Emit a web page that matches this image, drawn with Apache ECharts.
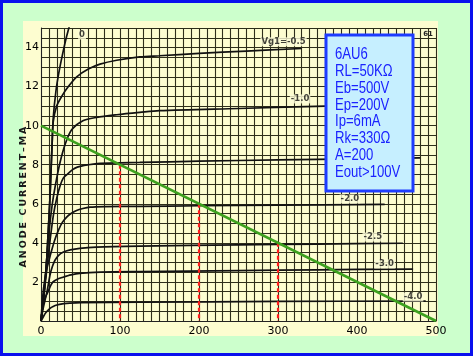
<!DOCTYPE html>
<html>
<head>
<meta charset="utf-8">
<script src="https://cdn.jsdelivr.net/npm/echarts@6/dist/echarts.min.js"></script>
<style>html,body{margin:0;padding:0;}#c{width:473px;height:356px;}</style>
</head>
<body>
<div id="c"></div>
<script>
// ---- data (anode voltage V, anode current mA) ----
const vg0   = [[0,0],[4,1.5],[7,3],[9,4.5],[11,6],[12.5,7.5],[14,9],[15.5,10.4],[19,11.8],[23,12.8],[27,13.6],[32,14.5],[38,15.4]];
const vg05  = [[0,0],[4,1.5],[7,3],[9,4.5],[11,6],[12.5,7.5],[14,9],[15.5,10.2],[19.8,11.0],[26.2,11.5],[34.6,12.0],[45.2,12.5],[59.9,12.9],[74.7,13.15],[95.8,13.35],[125,13.52],[150,13.58],[200,13.7],[260,13.82],[330,13.95]];
const vg10  = [[0,0],[4,1.5],[7,3],[10,4.5],[14,5.9],[18,6.9],[24,8.1],[31,9.1],[39,9.8],[53,10.25],[70,10.42],[96,10.56],[125,10.68],[150,10.77],[250,10.88],[360,11.0]];
const vg15  = [[0,0],[4,1.4],[8,2.9],[12,4.3],[16,5.5],[20,6.3],[24,6.9],[28,7.3],[33,7.5],[40,7.75],[46,7.88],[60,8.0],[71,8.06],[100,8.1],[125,8.12],[200,8.18],[300,8.25],[400,8.3],[480,8.35]];
const vg20  = [[0,0],[3,1.6],[7,2.6],[12,3.4],[17,4.1],[22,4.64],[27,5.05],[32.5,5.32],[38,5.5],[45,5.66],[53,5.76],[62,5.83],[80,5.86],[125,5.87],[200,5.9],[300,5.93],[435,5.97]];
const vg25  = [[0,0],[3,0.7],[7.6,1.5],[11.4,2.35],[14.5,2.8],[17.7,3.11],[22,3.35],[27.8,3.52],[37,3.64],[49,3.72],[70,3.78],[125,3.83],[250,3.9],[350,3.94],[458,3.98]];
const vg30  = [[0,0],[2.5,0.82],[5.5,1.2],[8.9,1.5],[12,1.8],[15.2,2.0],[20,2.13],[27.8,2.24],[38,2.36],[49,2.44],[75,2.5],[125,2.53],[250,2.58],[350,2.62],[471,2.66]];
const vg40  = [[0,0],[3,0.22],[6,0.42],[11.4,0.65],[16,0.76],[20,0.82],[27,0.88],[32.5,0.9],[50,0.94],[125,0.96],[300,1.0],[487,1.02]];
const curves = [vg0, vg05, vg10, vg15, vg20, vg25, vg30, vg40];

const loadLine = [[0,10],[500,0]];
const workPoints = [[100,8],[200,6],[300,4]];

const curveLabels = ['0','Vg1=-0.5','-1.0','-2.0','-2.5','-3.0','-4.0'];
const curveLabelAt = [[52,14.64],[307,14.29],[328,11.37],[391,6.25],[420,4.3],[435,2.92],[471,1.23]];

const xTickLabels = [0,100,200,300,400,500];
const yTickLabels = [2,4,6,8,10,12,14];

const yTitle = 'A\u2009N\u2009O\u2009D\u2009E\u2002\u2009C\u2009U\u2009R\u2009R\u2009E\u2009N\u2009T\u2009\u2013\u2009M\u2009A';
const boxLines = ['6AU6','RL=50K\u03A9','Eb=500V','Ep=200V','Ip=6mA','Rk=330\u03A9','A=200','Eout>100V'];

// ---- chart ----
const chart = echarts.init(document.getElementById('c'), null, {renderer:'canvas'});
const gridLine = {show:true, lineStyle:{color:'#2e2e1a', width:1.1}};
const series = [];
curves.forEach(c => series.push({
  type:'line', data:c, showSymbol:false, smooth:0.3, clip:true,
  lineStyle:{color:'#111', width:1.7}, z:3, silent:true
}));
series.push({type:'line', data:loadLine, showSymbol:false, lineStyle:{color:'#3da11f', width:2.6}, z:5, silent:true});
workPoints.forEach(p => series.push({
  type:'line', data:[[p[0],p[1]],[p[0],0]], showSymbol:false,
  lineStyle:{color:'#ff1c1c', width:2.2, type:[4,2.5]}, z:4, silent:true
}));
series.push({
  type:'scatter', symbolSize:0, z:6, silent:true,
  data: curveLabelAt.map((p,i)=>({value:p, name:curveLabels[i]})),
  label:{show:true, position:'inside', formatter:'{b}', color:'#111', fontSize:8.5, fontWeight:'bold',
    fontFamily:'DejaVu Sans', backgroundColor:'#fdfdd8', padding:[0,1]}
});

chart.setOption({
  animation:false,
  backgroundColor:'#ccffcc',
  grid:{left:41, top:28, right:37, bottom:35},
  xAxis:{type:'value', min:0, max:500, interval:10,
    axisLine:{show:true, lineStyle:{color:'#222', width:1}}, axisTick:{show:false},
    splitLine:gridLine,
    axisLabel:{margin:5, color:'#000', fontSize:11, fontFamily:'DejaVu Sans',
      formatter:v => xTickLabels.indexOf(v)>=0 ? String(v) : ''}},
  yAxis:{type:'value', min:0, max:15, interval:0.5,
    axisLine:{show:true, lineStyle:{color:'#222', width:1}}, axisTick:{show:false},
    splitLine:gridLine,
    axisLabel:{margin:2, color:'#000', fontSize:11, fontFamily:'DejaVu Sans',
      formatter:v => yTickLabels.indexOf(v)>=0 ? String(v) : ''}},
  series:series,
  graphic:[
    {type:'rect', z:-10, silent:true, shape:{x:0,y:0,width:473,height:356}, style:{fill:'#ccffcc', stroke:'#0a10ee', lineWidth:6}},
    {type:'rect', z:-9, silent:true, shape:{x:23,y:21,width:415,height:315}, style:{fill:'#fdfdd0'}},
    {type:'text', z:10, silent:true, x:24, y:197, rotation:Math.PI/2,
      style:{text:yTitle, fill:'#1a1a1a', font:'bold 9.5px "DejaVu Sans"', align:'center', verticalAlign:'middle'}},
    {type:'text', z:10, silent:true, x:428, y:34,
      style:{text:'61', fill:'#222', font:'bold 7px "DejaVu Sans"', align:'center', verticalAlign:'middle'}},
    {type:'rect', z:100, silent:true, shape:{x:326,y:35,width:87,height:156}, style:{fill:'#c6efff', stroke:'#1e3cff', lineWidth:3}},
    {type:'text', z:101, silent:true, x:335, y:46, scaleX:0.82,
      style:{text:boxLines.join('\n'), fill:'#1a22ff', font:'16px "Liberation Sans"', lineHeight:16.9, align:'left', verticalAlign:'top'}}
  ]
});
</script>
</body>
</html>
